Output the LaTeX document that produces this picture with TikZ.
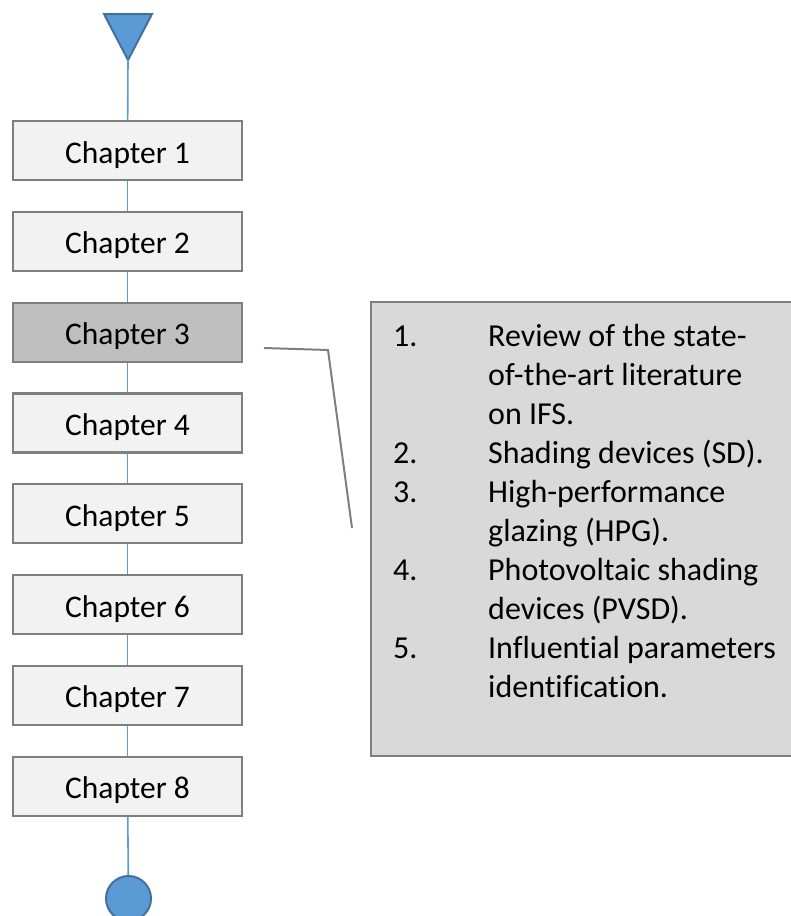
\documentclass[tikz,border=0pt]{standalone}
\usepackage{fontspec}
\setmainfont[Ligatures={NoCommon}]{Carlito}
\definecolor{boxline}{HTML}{7F7F7F}
\definecolor{boxfill}{HTML}{F2F2F2}
\definecolor{boxdark}{HTML}{BFBFBF}
\definecolor{notefill}{HTML}{D9D9D9}
\definecolor{flowblue}{HTML}{5B9BD5}
\definecolor{flowedge}{HTML}{41719C}
\newcommand{\itemnum}[1]{\makebox[95pt][l]{#1}}
\newcommand{\itemcont}{\hspace*{95pt}}
\begin{document}
\begin{tikzpicture}[x=1pt,y=-1pt,
  chapter/.style={draw=boxline, fill=boxfill, line width=2.2pt,
    minimum width=229pt, minimum height=59pt, inner sep=0pt,
    text height=25pt, text depth=0pt,
    font=\fontsize{31.5}{38}\selectfont},
  current/.style={chapter, fill=boxdark},
  flow/.style={draw=flowblue, line width=1.6pt},
  terminal/.style={fill=flowblue, draw=flowedge, line width=2pt},
  callout/.style={draw=boxline, line width=2pt},
  notes/.style={fill=notefill, draw=boxline, line width=2.2pt}]
\useasboundingbox (0,0) rectangle (791,916);
\clip (0,0) rectangle (791,916);

% start marker
\draw[terminal, line join=miter] (104,14) -- (152,14) -- (128,60) -- cycle;
\coordinate (start) at (128,60);

% chapter boxes
\foreach \k in {1,2,4,5,6,7,8}
  \node[chapter] (ch\k) at (127.5,{150.5+(\k-1)*90.8}) {Chapter \k};
\node[current] (ch3) at (127.5,332.1) {Chapter 3};

% end marker
\node[terminal, circle, minimum size=45pt, inner sep=0pt] (finish) at (128.5,898.5) {};

% flow line
\draw[flow] (start) -- (ch1);
\foreach \a/\b in {1/2,2/3,3/4,4/5,5/6,6/7,7/8}
  \draw[flow] (ch\a) -- (ch\b);
\draw[flow] (ch8) -- (finish);

% notes box for chapter 3
\draw[notes] (371,302) rectangle (800,756);
\node[anchor=north west, inner sep=0pt, align=left,
      font=\fontsize{32}{39}\selectfont] (list) at (393,324) {%
\itemnum{1.}Review of the state-\\
\itemcont of-the-art literature\\
\itemcont on IFS.\\
\itemnum{2.}Shading devices (SD).\\
\itemnum{3.}High-performance\\
\itemcont glazing (HPG).\\
\itemnum{4.}Photovoltaic shading\\
\itemcont devices (PVSD).\\
\itemnum{5.}Influential parameters\\
\itemcont identification.};

% callout line
\coordinate (callA) at (264,348);
\coordinate (callB) at (328,350);
\coordinate (callC) at (352,528);
\draw[callout] (callA) -- (callB) -- (callC);
\end{tikzpicture}
\end{document}
